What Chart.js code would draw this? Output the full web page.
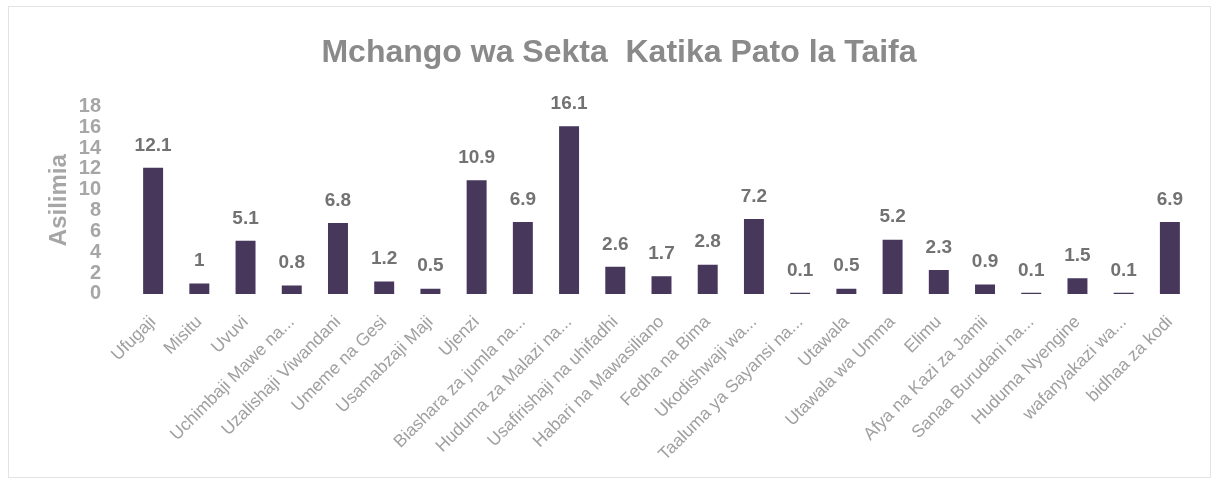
<!DOCTYPE html>
<html>
<head>
<meta charset="utf-8">
<script src="https://cdn.jsdelivr.net/npm/chart.js@4.4.1/dist/chart.umd.min.js"></script>
<style>
  html, body { margin: 0; padding: 0; background: #ffffff; }
  #wrap { position: absolute; left: 8px; top: 6px; width: 1203px; height: 472px; border: 1px solid #e3e3e3; box-sizing: border-box; }
  #c { position: absolute; left: 0; top: 0; }
</style>
</head>
<body>
<div id="wrap"></div>
<canvas id="c" width="1213" height="483"></canvas>
<script>
const categories = ["Ufugaji","Misitu","Uvuvi","Uchimbaji Mawe na...","Uzalishaji Viwandani","Umeme na Gesi","Usamabzaji Maji","Ujenzi","Biashara za jumla na...","Huduma za Malazi na...","Usafirishaji na uhifadhi","Habari na Mawasiliano","Fedha na Bima","Ukodishwaji wa...","Taaluma ya Sayansi na...","Utawala","Utawala wa Umma","Elimu","Afya na Kazi za Jamii","Sanaa Burudani na...","Huduma Nyengine","wafanyakazi wa...","bidhaa za kodi"];
const values = [12.1,1,5.1,0.8,6.8,1.2,0.5,10.9,6.9,16.1,2.6,1.7,2.8,7.2,0.1,0.5,5.2,2.3,0.9,0.1,1.5,0.1,6.9];
const yTicks = [0,2,4,6,8,10,12,14,16,18];

const FONT = "'Liberation Sans', Arial, sans-serif";

const valueLabels = {
  id: 'valueLabels',
  afterDatasetsDraw(chart) {
    const ctx = chart.ctx;
    const meta = chart.getDatasetMeta(0);
    ctx.save();
    ctx.font = "bold 19px " + FONT;
    ctx.fillStyle = '#727272';
    ctx.textAlign = 'center';
    ctx.textBaseline = 'bottom';
    meta.data.forEach((bar, i) => {
      ctx.fillText(String(values[i]), bar.x, bar.y - 13);
    });
    ctx.restore();
  }
};

new Chart(document.getElementById('c'), {
  type: 'bar',
  data: {
    labels: categories,
    datasets: [{
      data: values,
      backgroundColor: '#46375b',
      barPercentage: 0.72,
      categoryPercentage: 0.6
    }]
  },
  options: {
    responsive: false,
    animation: false,
    layout: { padding: { left: 45, right: 20, top: 0, bottom: 8 } },
    plugins: {
      legend: { display: false },
      tooltip: { enabled: false },
      title: {
        display: true,
        text: 'Mchango wa Sekta  Katika Pato la Taifa',
        color: '#8a8a8a',
        font: { family: FONT, size: 32, weight: 'bold' },
        padding: { top: 34, bottom: 34 }
      }
    },
    scales: {
      x: {
        grid: { display: false },
        border: { display: false },
        ticks: {
          color: '#a0a0a0',
          font: { family: FONT, size: 17.5 },
          maxRotation: 45, minRotation: 45,
          autoSkip: false,
          padding: 10
        }
      },
      y: {
        min: 0, max: 18,
        afterBuildTicks(axis) { axis.ticks = yTicks.map(v => ({ value: v })); },
        afterFit(axis) { axis.width = 85; },
        grid: { display: false },
        border: { display: false },
        ticks: {
          color: '#a6a6a6',
          font: { family: FONT, size: 20, weight: 'bold' },
          padding: 21,
          autoSkip: false
        },
        title: {
          display: true,
          text: 'Asilimia',
          color: '#a6a6a6',
          font: { family: FONT, size: 24, weight: 'bold' },
          padding: { top: 0, bottom: 0 }
        }
      }
    }
  },
  plugins: [valueLabels]
});
</script>
</body>
</html>
